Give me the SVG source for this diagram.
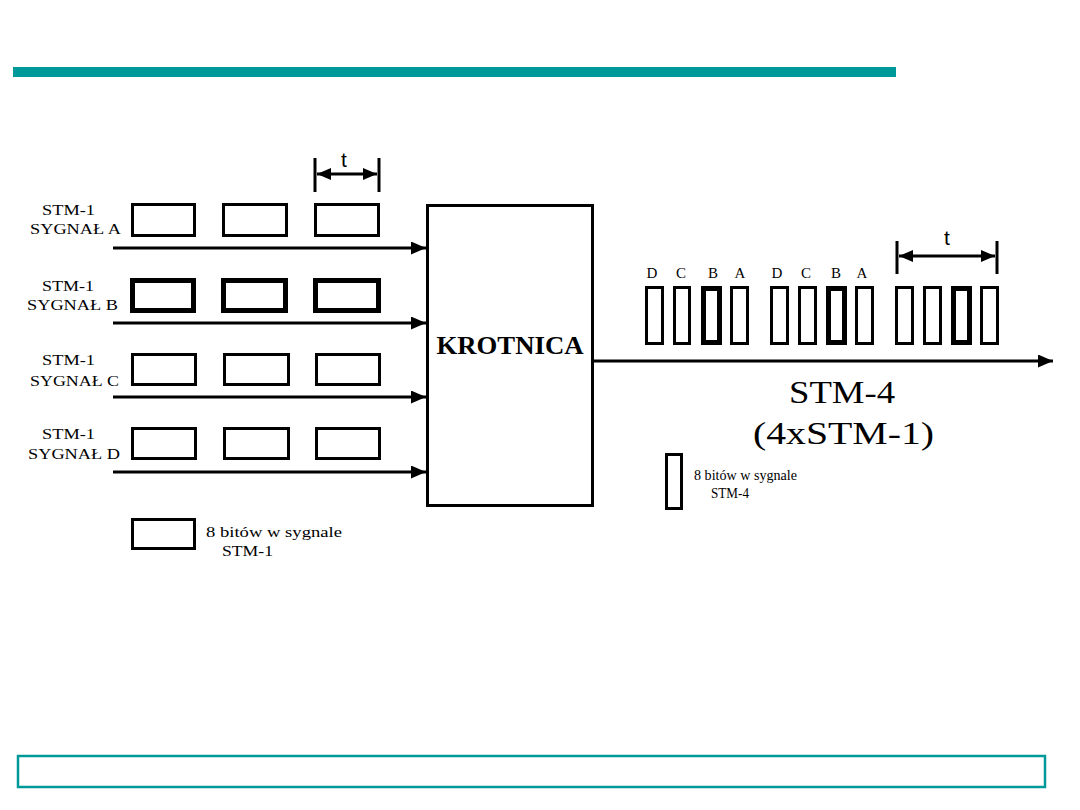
<svg xmlns="http://www.w3.org/2000/svg" width="1080" height="810" viewBox="0 0 1080 810">
<defs>
<marker id="ah" markerWidth="15" markerHeight="13" refX="15" refY="6.5" orient="auto" markerUnits="userSpaceOnUse">
<path d="M0,0 L15,6.5 L0,13 Z" fill="#000"/>
</marker>
<marker id="dh" markerWidth="14" markerHeight="12" refX="14" refY="6" orient="auto-start-reverse" markerUnits="userSpaceOnUse">
<path d="M0,0 L14,6 L0,12 Z" fill="#000"/>
</marker>
<style>
.thin{fill:#fff;stroke:#000;stroke-width:3}
.thick{fill:#fff;stroke:#000;stroke-width:5}
.lbl{font-family:"Liberation Serif","Times New Roman",serif;font-size:15px;fill:#000}
.let{font-family:"Liberation Serif","Times New Roman",serif;font-size:15px;fill:#000;text-anchor:middle}
.t{font-family:"Liberation Sans",Arial,sans-serif;font-size:21px;fill:#000;text-anchor:middle}
.big{font-family:"Liberation Serif","Times New Roman",serif;font-size:32px;fill:#000}
.conn{stroke:#000;stroke-width:3;fill:none}
.tick{stroke:#000;stroke-width:3}
</style>
</defs>
<rect width="1080" height="810" fill="#fff"/>
<rect id="topbar" x="13" y="67" width="883" height="10" fill="#009999"/>
<rect id="footer" x="18" y="756" width="1027" height="31" fill="none" stroke="#009999" stroke-width="2.5"/>

<g id="signalA">
<text class="lbl" x="42" y="215" textLength="53" lengthAdjust="spacingAndGlyphs">STM-1</text>
<text class="lbl" x="30" y="234" textLength="91" lengthAdjust="spacingAndGlyphs">SYGNAŁ A</text>
<rect class="thin" x="132.5" y="204.5" width="62" height="31"/>
<rect class="thin" x="223.5" y="204.5" width="63" height="31"/>
<rect class="thin" x="315.5" y="204.5" width="63" height="31"/>
</g>
<g id="signalB">
<text class="lbl" x="42" y="291" textLength="52" lengthAdjust="spacingAndGlyphs">STM-1</text>
<text class="lbl" x="27" y="310" textLength="91" lengthAdjust="spacingAndGlyphs">SYGNAŁ B</text>
<rect class="thick" x="132.5" y="280.5" width="61" height="30"/>
<rect class="thick" x="223.5" y="280.5" width="62" height="30"/>
<rect class="thick" x="315.5" y="280.5" width="63" height="30"/>
</g>
<g id="signalC">
<text class="lbl" x="42" y="365" textLength="53" lengthAdjust="spacingAndGlyphs">STM-1</text>
<text class="lbl" x="30" y="386" textLength="89" lengthAdjust="spacingAndGlyphs">SYGNAŁ C</text>
<rect class="thin" x="132.5" y="354.5" width="63" height="30"/>
<rect class="thin" x="224.5" y="354.5" width="64" height="30"/>
<rect class="thin" x="316.5" y="354.5" width="63" height="30"/>
</g>
<g id="signalD">
<text class="lbl" x="42" y="439" textLength="53" lengthAdjust="spacingAndGlyphs">STM-1</text>
<text class="lbl" x="28" y="459" textLength="92" lengthAdjust="spacingAndGlyphs">SYGNAŁ D</text>
<rect class="thin" x="132.5" y="428.5" width="63" height="30"/>
<rect class="thin" x="224.5" y="428.5" width="64" height="30"/>
<rect class="thin" x="316.5" y="428.5" width="63" height="30"/>
</g>

<g id="legend1">
<rect class="thin" x="132.5" y="519.5" width="62" height="29"/>
<text class="lbl" x="206" y="537" textLength="136" lengthAdjust="spacingAndGlyphs">8 bitów w sygnale</text>
<text class="lbl" x="222" y="556" textLength="51" lengthAdjust="spacingAndGlyphs">STM-1</text>
</g>

<g id="krotnica">
<rect x="427.5" y="205.5" width="165" height="300" fill="#fff" stroke="#000" stroke-width="3"/>
<text x="510" y="354" text-anchor="middle" font-family="'Liberation Serif','Times New Roman',serif" font-weight="bold" font-size="25" textLength="147" lengthAdjust="spacingAndGlyphs">KROTNICA</text>
</g>

<g id="dimLeft">
<line class="tick" x1="315" y1="158" x2="315" y2="192"/>
<line class="tick" x1="379" y1="158" x2="379" y2="192"/>
<line x1="317" y1="174" x2="377" y2="174" stroke="#000" stroke-width="3" marker-start="url(#dh)" marker-end="url(#dh)"/>
<text class="t" x="344" y="167">t</text>
</g>

<g id="stm4pulses">
<text class="let" x="652" y="278">D</text>
<text class="let" x="681" y="278">C</text>
<text class="let" x="713" y="278">B</text>
<text class="let" x="740" y="278">A</text>
<text class="let" x="777" y="278">D</text>
<text class="let" x="806" y="278">C</text>
<text class="let" x="836" y="278">B</text>
<text class="let" x="862" y="278">A</text>
<rect class="thin" x="646.5" y="287.5" width="16" height="56"/>
<rect class="thin" x="674.5" y="287.5" width="15" height="56"/>
<rect class="thick" x="703.5" y="288.5" width="16" height="54"/>
<rect class="thin" x="731.5" y="287.5" width="16" height="56"/>
<rect class="thin" x="771.5" y="287.5" width="16" height="56"/>
<rect class="thin" x="799.5" y="287.5" width="16" height="56"/>
<rect class="thick" x="828.5" y="288.5" width="16" height="54"/>
<rect class="thin" x="856.5" y="287.5" width="16" height="56"/>
<rect class="thin" x="896.5" y="287.5" width="16" height="56"/>
<rect class="thin" x="924.5" y="287.5" width="16" height="56"/>
<rect class="thick" x="953.5" y="288.5" width="16" height="54"/>
<rect class="thin" x="981.5" y="287.5" width="16" height="56"/>
</g>

<g id="dimRight">
<line class="tick" x1="897" y1="241" x2="897" y2="274"/>
<line class="tick" x1="997" y1="241" x2="997" y2="274"/>
<line x1="899" y1="256" x2="995" y2="256" stroke="#000" stroke-width="3" marker-start="url(#dh)" marker-end="url(#dh)"/>
<text class="t" x="947" y="245">t</text>
</g>

<g id="stm4label">
<text class="big" x="789" y="403" textLength="106" lengthAdjust="spacingAndGlyphs">STM-4</text>
<text class="big" x="753" y="444" textLength="181" lengthAdjust="spacingAndGlyphs">(4xSTM-1)</text>
</g>

<g id="legend4">
<rect class="thin" x="666.5" y="454.5" width="15" height="54"/>
<text class="lbl" x="694" y="480" textLength="103" lengthAdjust="spacingAndGlyphs" style="font-size:14px">8 bitów w sygnale</text>
<text class="lbl" x="711" y="498" style="font-size:14px" textLength="38" lengthAdjust="spacingAndGlyphs">STM-4</text>
</g>

<g id="connectors">
<line class="conn" x1="113" y1="248" x2="426" y2="248" marker-end="url(#ah)"/>
<line class="conn" x1="113" y1="323" x2="426" y2="323" marker-end="url(#ah)"/>
<line class="conn" x1="113" y1="397" x2="426" y2="397" marker-end="url(#ah)"/>
<line class="conn" x1="113" y1="472" x2="426" y2="472" marker-end="url(#ah)"/>
<line class="conn" x1="594" y1="361" x2="1053" y2="361" marker-end="url(#ah)"/>
</g>
</svg>
